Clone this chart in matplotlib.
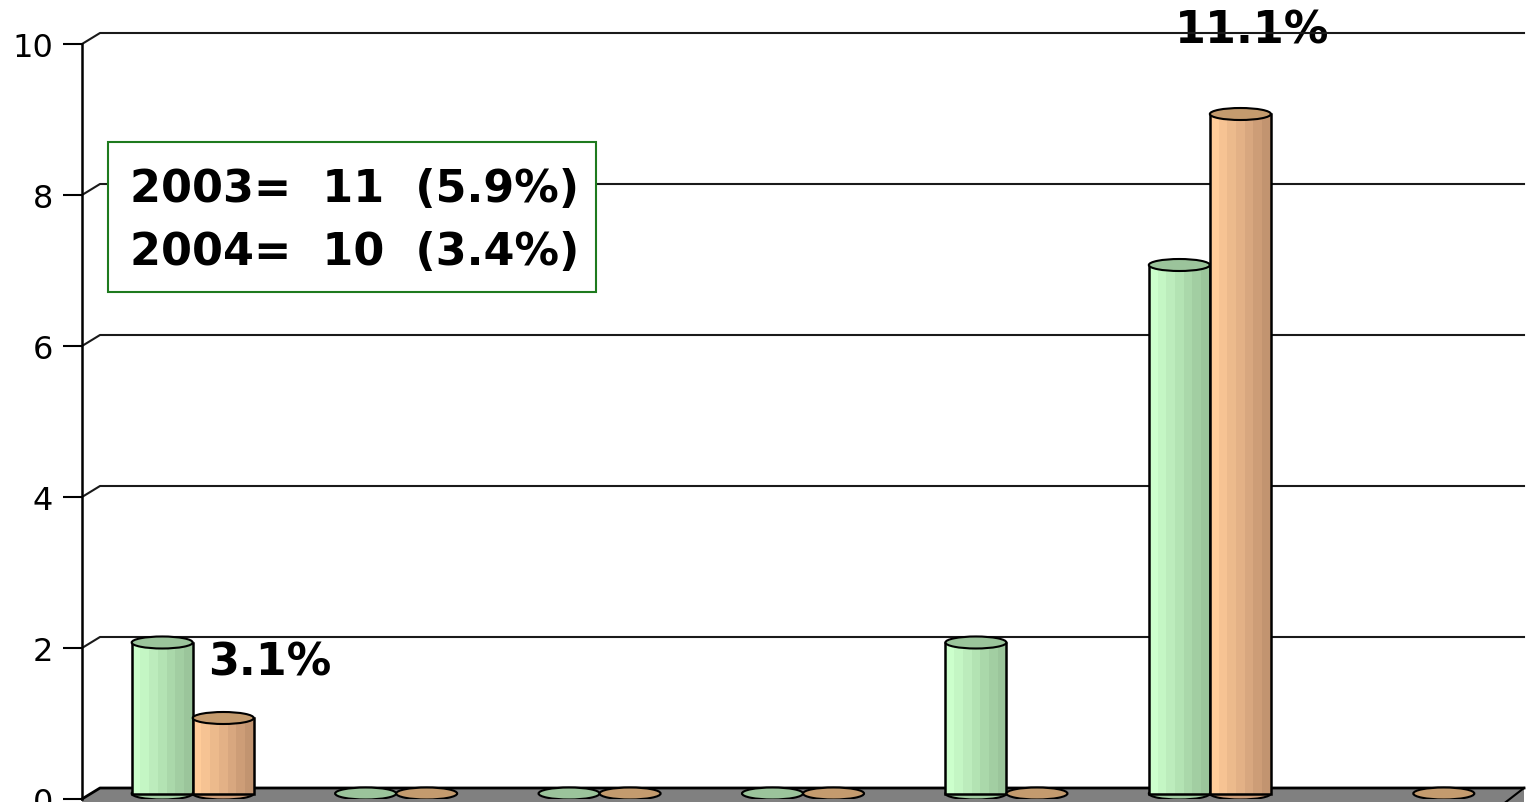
import numpy as np
import matplotlib
matplotlib.use("Agg")
import matplotlib.pyplot as plt
from matplotlib.patches import Ellipse, Polygon, Rectangle
from matplotlib.transforms import ScaledTranslation

# ---------------- data ----------------
categories = [0, 1, 2, 3, 4, 5, 6]
values_2003 = [2, 0, 0, 0, 2, 7, np.nan]
values_2004 = [1, 0, 0, 0, 0, 9, 0]
y_ticks = [0, 2, 4, 6, 8, 10]
summary_lines = ["2003=  11  (5.9%)", "2004=  10  (3.4%)"]
pct_texts = ["3.1%", "11.1%"]

# ---------------- style ----------------
green_side = ["#ccffcc", "#c4f6c4", "#bcecbc", "#b3e3b3", "#aad8aa", "#a2cea2", "#9bc59b"]
green_top = "#9bc49b"
orange_side = ["#ffcc99", "#f6c393", "#ecba8c", "#e3b186", "#d8a77f", "#cd9d77", "#c29470"]
orange_top = "#c49b6e"

W, H = 1526, 803
fig = plt.figure(figsize=(W / 100, H / 100), dpi=100)
ax = fig.add_axes([82 / W, 3 / H, 1424 / W, 755 / H])
ax.set_xlim(-0.5, 6.5)
ax.set_ylim(0, 10)

px_x = 1424 / 7.0   # pixels per category
px_y = 755 / 10.0   # pixels per unit
dx_back, dy_back = 18 / px_x, 11 / px_y

# floor
floor = Polygon([(-0.5, -0.2), (-0.5, 0), (-0.5 + dx_back, dy_back),
                 (6.5 + dx_back, dy_back), (6.5 + dx_back, dy_back - 0.4), (6.5, -0.2)],
                closed=True, facecolor="#808080", edgecolor="none", clip_on=False, zorder=1)
ax.add_patch(floor)
ax.plot([-0.5, -0.5 + dx_back, 6.5 + dx_back], [0, dy_back, dy_back], color="black",
        lw=2, clip_on=False, zorder=1.5)
ax.plot([6.5 + dx_back, 6.5 + dx_back - 0.12], [dy_back, dy_back - 0.25], color="black",
        lw=1.5, clip_on=False, zorder=1.5)

# gridlines on back wall
for v in y_ticks[1:]:
    ax.plot([-0.5, -0.5 + dx_back, 6.5 + dx_back], [v, v + dy_back, v + dy_back],
            color="#1a1a1a", lw=1.5, clip_on=False, zorder=1)

# bars (cylinders) drawn at mid depth
shift = ScaledTranslation(9 / 100, 5.5 / 100, fig.dpi_scale_trans)
tr = ax.transData + shift
bw = 0.3
ell_h = 12 / px_y


def cylinder(xc, v, side_colors, top_color, z):
    if np.isnan(v):
        return
    n = len(side_colors)
    if v > 0:
        edges = np.linspace(xc - bw / 2, xc + bw / 2, n + 1)
        for i in range(n):
            ax.bar(edges[i], v, width=edges[i + 1] - edges[i], align="edge",
                   color=side_colors[i], edgecolor="none", transform=tr, zorder=z)
        ax.add_patch(Ellipse((xc, 0), bw, ell_h, facecolor=side_colors[-2],
                             edgecolor="black", lw=1.5, transform=tr, zorder=z - 0.05))
        ax.bar(xc, v, width=bw, color="none", edgecolor="black", lw=1.8,
               transform=tr, zorder=z + 0.01)
    ax.add_patch(Ellipse((xc, v), bw, ell_h, facecolor=top_color, edgecolor="black",
                         lw=1.5, transform=tr, zorder=z + 0.02))


for c, v3, v4 in zip(categories, values_2003, values_2004):
    cylinder(c - bw / 2, v3, green_side, green_top, 3 + c * 0.1)
    cylinder(c + bw / 2, v4, orange_side, orange_top, 3.05 + c * 0.1)

# axes styling
for s in ["top", "right", "bottom"]:
    ax.spines[s].set_visible(False)
ax.spines["left"].set_linewidth(1.8)
ax.spines["left"].set_zorder(5)
ax.set_yticks(y_ticks)
ax.set_yticklabels([str(t) for t in y_ticks])
ax.set_xticks([])
ax.tick_params(axis="y", length=14, width=1.5, pad=7, labelsize=23)
ax.patch.set_visible(False)

# summary box
ax.add_patch(Rectangle((-0.372, 6.72), 2.40, 1.98, facecolor="white",
                       edgecolor="#1e7a1e", lw=1.5, zorder=6, clip_on=False))
ax.text(-0.265, 8.08, summary_lines[0], fontsize=32, fontweight="bold",
        va="center", ha="left", zorder=7)
ax.text(-0.265, 7.25, summary_lines[1], fontsize=32, fontweight="bold",
        va="center", ha="left", zorder=7)

# percentage labels
ax.text(0.12, 1.82, pct_texts[0], fontsize=32, fontweight="bold",
        va="center", ha="left", zorder=7)
ax.text(5.25, 10.18, pct_texts[1], fontsize=32, fontweight="bold",
        va="center", ha="center", zorder=0.5, clip_on=False)

fig.savefig("out.png", dpi=100)
